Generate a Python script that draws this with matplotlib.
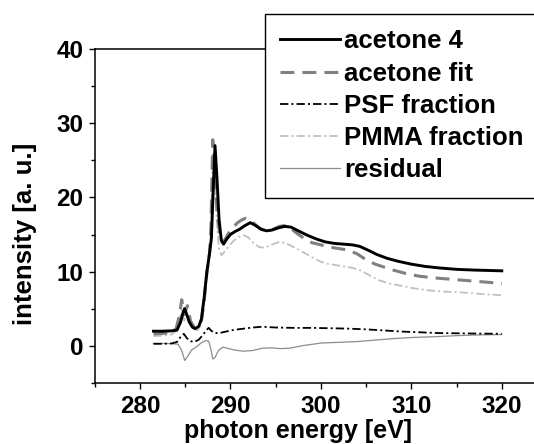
import matplotlib
matplotlib.use("Agg")
import matplotlib.pyplot as plt
from matplotlib.ticker import MultipleLocator

# ---- data (photon energy [eV], intensity [a. u.]) ----
acetone_e = [281.5, 282.5, 283.5, 284.1, 284.5, 284.75, 284.93, 285.15, 285.45, 285.8,
             286.1, 286.5, 286.8, 287.1, 287.4, 287.7, 287.9, 288.1, 288.3, 288.5,
             288.75, 289.0, 289.25, 289.6, 290.0, 290.5, 291.0, 291.6, 292.2, 292.8,
             293.4, 294.0, 294.6, 295.3, 296.0, 296.7, 297.5, 298.5, 299.5, 300.5,
             301.5, 302.5, 303.5, 304.3, 305.2, 306.2, 307.3, 308.5, 310.0, 311.5,
             313.0, 315.0, 317.0, 320.0]
acetone_i = [1.95, 1.95, 2.0, 2.1, 3.2, 4.4, 5.0, 4.3, 3.2, 2.5,
             2.3, 2.6, 3.6, 6.5, 10.0, 12.5, 14.5, 21.0, 27.0, 23.0,
             17.0, 14.2, 13.7, 14.4, 15.0, 15.4, 15.7, 16.2, 16.6, 16.2,
             15.7, 15.5, 15.6, 15.9, 16.1, 16.0, 15.5, 14.9, 14.4, 14.0,
             13.8, 13.7, 13.6, 13.4, 12.9, 12.3, 11.8, 11.4, 11.0, 10.7,
             10.5, 10.3, 10.2, 10.1]

fit_e = [281.5, 282.5, 283.5, 284.0, 284.35, 284.62, 284.9, 285.25, 285.6, 286.0,
         286.4, 286.8, 287.1, 287.4, 287.7, 287.85, 288.05, 288.25, 288.5, 288.8,
         289.1, 289.4, 289.8, 290.3, 290.8, 291.3, 291.7, 292.2, 292.7, 293.3,
         294.0, 294.7, 295.4, 296.0, 296.6, 297.3, 298.0, 299.0, 300.0, 301.0,
         302.0, 303.0, 304.0, 305.0, 306.0, 307.0, 308.0, 309.5, 311.0, 313.0,
         315.0, 317.5, 320.0]
fit_i = [1.6, 1.65, 1.8, 2.3, 4.0, 6.2, 4.2, 5.4, 3.3, 2.5,
         2.5, 3.4, 6.0, 9.8, 12.6, 16.0, 27.8, 25.0, 18.5, 15.2,
         14.0, 14.3, 15.2, 16.0, 16.6, 17.0, 17.2, 17.0, 16.4, 15.8,
         15.5, 15.7, 16.1, 16.2, 15.9, 15.2, 14.6, 13.9, 13.6, 13.3,
         13.1, 12.9, 12.4, 11.6, 11.0, 10.6, 10.2, 9.7, 9.35, 9.1,
         8.9, 8.65, 8.4]

psf_e = [281.5, 282.5, 283.5, 284.1, 284.5, 284.85, 285.2, 285.6, 286.0, 286.5,
         287.0, 287.35, 287.6, 287.9, 288.3, 288.8, 289.5, 290.5, 291.5, 292.5,
         293.5, 295.0, 297.0, 299.0, 301.0, 303.0, 305.0, 307.0, 309.0, 311.0,
         313.0, 316.0, 320.0]
psf_i = [0.25, 0.25, 0.3, 0.5, 1.2, 1.6, 1.0, 0.6, 0.5, 0.8,
         1.5, 2.1, 2.4, 2.0, 1.7, 1.7, 1.9, 2.15, 2.3, 2.45,
         2.55, 2.45, 2.4, 2.4, 2.35, 2.3, 2.2, 2.05, 1.9, 1.8,
         1.7, 1.65, 1.6]

pmma_e = [281.5, 282.5, 283.5, 284.0, 284.35, 284.62, 284.9, 285.25, 285.6, 286.0,
          286.4, 286.8, 287.1, 287.4, 287.7, 287.85, 288.05, 288.25, 288.5, 288.75,
          289.0, 289.3, 289.8, 290.4, 291.0, 291.5, 292.0, 292.6, 293.2, 293.8,
          294.5, 295.4, 296.2, 297.0, 297.7, 298.5, 299.5, 300.5, 301.5, 302.5,
          303.5, 304.5, 305.5, 306.5, 307.5, 308.8, 310.0, 311.7, 313.5, 315.4,
          317.5, 320.0]
pmma_i = [1.3, 1.35, 1.5, 2.0, 3.4, 4.8, 3.4, 4.3, 2.8, 2.1,
          2.1, 3.0, 5.5, 9.2, 12.0, 15.2, 26.0, 23.5, 16.8, 13.0,
          12.2, 12.6, 13.4, 14.2, 14.7, 14.9, 14.6, 13.8, 13.3, 13.2,
          13.6, 14.0, 13.8, 13.3, 12.85, 12.3, 11.6, 11.1, 10.9, 10.7,
          10.5, 10.1, 9.4, 8.8, 8.4, 8.1, 7.8, 7.5, 7.3, 7.2,
          7.0, 6.8]

resid_e = [281.5, 283.0, 284.2, 284.6, 284.95, 285.3, 285.7, 286.2, 286.8, 287.3,
           287.6, 287.85, 288.05, 288.3, 288.7, 289.2, 289.8, 290.5, 291.5, 292.5,
           293.5, 294.5, 295.5, 296.5, 298.0, 300.0, 302.0, 304.0, 306.0, 308.0,
           310.0, 312.5, 315.0, 317.5, 320.0]
resid_i = [0.3, 0.3, 0.2, -0.6, -2.0, -1.4, -0.6, -0.2, 0.4, 0.7,
           0.6, -0.5, -1.8, -1.6, -0.6, -0.2, -0.4, -0.6, -0.75, -0.65,
           -0.35, -0.3, -0.4, -0.35, 0.0, 0.35, 0.45, 0.55, 0.75, 0.95,
           1.1, 1.2, 1.35, 1.45, 1.5]

# ---- style ----
plt.rcParams['font.family'] = ['Liberation Sans', 'DejaVu Sans']
plt.rcParams['font.weight'] = 'bold'
plt.rcParams['lines.scale_dashes'] = False

fig = plt.figure(figsize=(5.34, 4.44), dpi=100)
ax = fig.add_axes([94.7 / 534, (444 - 382.7) / 444, 452.3 / 534, 333.4 / 444])

ax.plot(acetone_e, acetone_i, color='black', lw=2.1, label='acetone 4', zorder=6)
ax.plot(fit_e, fit_i, color='#808080', lw=2.2, ls=(0, (10, 5.8)), label='acetone fit', zorder=5)
ax.plot(psf_e, psf_i, color='black', lw=1.3, ls=(0, (6, 2.2, 1.5, 2.2)), label='PSF fraction', zorder=4)
ax.plot(pmma_e, pmma_i, color='#c0c0c0', lw=1.3, ls=(0, (6, 2.2, 1.5, 2.2)), label='PMMA fraction', zorder=3)
ax.plot(resid_e, resid_i, color='#8c8c8c', lw=0.9, label='residual', zorder=2)

ax.set_xlim(275, 325)
ax.set_ylim(-5, 40)
ax.xaxis.set_major_locator(MultipleLocator(10))
ax.xaxis.set_minor_locator(MultipleLocator(5))
ax.yaxis.set_major_locator(MultipleLocator(10))
ax.yaxis.set_minor_locator(MultipleLocator(5))

for side in ['left', 'bottom', 'top', 'right']:
    ax.spines[side].set_linewidth(1.1)
ax.tick_params(which='both', direction='out', top=False, right=False, width=1.0)
ax.tick_params(which='major', length=4.5, labelsize=17.5)
ax.tick_params(axis='x', which='major', pad=4.0)
ax.tick_params(axis='y', which='major', pad=3.5)
ax.tick_params(which='minor', length=2.7)

ax.set_xlabel('photon energy [eV]', fontsize=18, fontweight='bold')
ax.set_ylabel('intensity [a. u.]', fontsize=18.5, fontweight='bold')
ax.xaxis.set_label_coords(0.4495, -0.109)
ax.yaxis.set_label_coords(-0.1276, 0.446)

leg = ax.legend(loc='upper left', bbox_to_anchor=(265 / 534, 1 - 14 / 444),
                bbox_transform=fig.transFigure, fontsize=18.5, frameon=True,
                fancybox=False, framealpha=1, edgecolor='black', borderpad=0.6,
                labelspacing=0.32, handlelength=2.33, handletextpad=0.15,
                borderaxespad=0)
leg.get_frame().set_linewidth(1.0)
leg.set_zorder(10)

fig.savefig('out.png', dpi=100)
